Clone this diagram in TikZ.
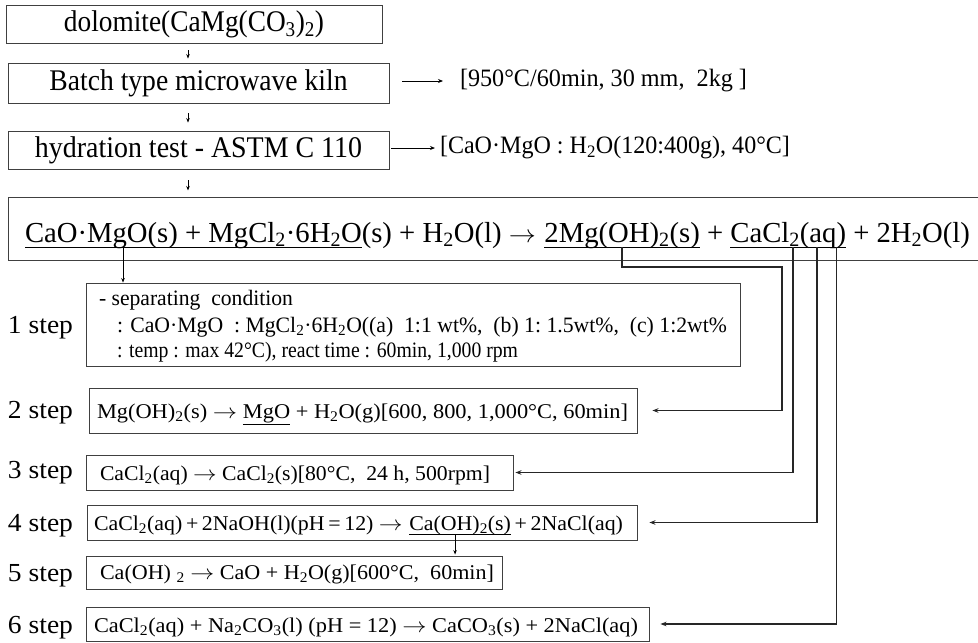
\documentclass[tikz,border=0pt]{standalone}
\usepackage{fontspec}
\setmainfont{Liberation Serif}
\usepackage{graphicx}
\usetikzlibrary{arrows.meta,calc}
\newcommand\fw[3]{\resizebox{#1}{\height}{\fontsize{#2}{#2}\selectfont #3}}
\newcommand\sbs[1]{\textsubscript{#1}}
\newcommand\myarrow{\scalebox{1.1}[1]{$\rightarrow$}}
\newlength\mylenA
\newlength\mylenB
\newcommand\eqA{CaO·MgO(s) + MgCl\sbs{2}·6H\sbs{2}O}
\newcommand\eqB{(s) + H\sbs{2}O(l) \myarrow\hspace{0.3em}}
\newcommand\eqC{2Mg(OH)\sbs{2}(s)}
\newcommand\eqD{\hspace{0.25em}+\hspace{0.25em}}
\newcommand\eqE{CaCl\sbs{2}(aq)}
\newcommand\eqF{\hspace{0.25em}+ 2H\sbs{2}O(l)}
\newcommand\qA{CaCl\sbs{2}(aq)\,+\,2NaOH(l)(pH\,=\,12) \myarrow\hspace{0.3em}}
\newcommand\qB{Ca(OH)\sbs{2}(s)}
\newcommand\qC{\,+\,2NaCl(aq)}
\begin{document}
\settowidth\mylenA{\fontsize{29}{34}\selectfont\eqA\eqB\eqC\eqD\eqE\eqF}
\settowidth\mylenB{\fontsize{21}{25}\selectfont\qA\qB\qC}
\pgfmathsetmacro\eqs{945/\mylenA}
\pgfmathsetmacro\qs{529/\mylenB}
\begin{tikzpicture}[x=1pt,y=-1pt,
  box/.style={draw=black!75, line width=0.9pt, inner sep=0pt},
  txt/.style={inner sep=0pt, outer sep=0pt},
  eqn/.style={txt, anchor=base west, font=\fontsize{29}{34}\selectfont},
  qn/.style={txt, anchor=base west, font=\fontsize{21}{25}\selectfont},
  conn/.style={draw=black!85, line width=1.4pt},
  arr/.style={conn, -{Stealth[length=6pt,width=4.5pt]}},
  tiny/.style={draw=black, line width=0.9pt, -{Stealth[length=4.5pt,width=3.5pt]}},
  side/.style={draw=black, line width=0.9pt, -{Stealth[length=5pt,width=4pt]}},
  uline/.style={draw=black, line width=1pt},
]
\path[use as bounding box] (0,0) rectangle (978,643);
\fill[white] (0,0) rectangle (978,643);
\clip (0,0) rectangle (978,643);

% top boxes
\node[box, minimum width=376pt, minimum height=38pt] (b1) at (194,24) {\fw{260pt}{30}{dolomite(CaMg(CO\sbs{3})\sbs{2})}};
\node[box, minimum width=381pt, minimum height=40pt] (b2) at (198.5,83) {\fw{298pt}{30}{Batch type microwave kiln}};
\node[box, minimum width=381pt, minimum height=38pt] (b3) at (198.5,150) {\fw{327pt}{30}{hydration test - ASTM C 110}};

% side notes
\node[txt, anchor=west] (t2) at (460,81) {\fw{287pt}{25}{[950°C/60min, 30 mm,\ \ 2kg ]}};
\node[txt, anchor=west] (t3) at (440,148) {\fw{350pt}{25}{[CaO·MgO : H\sbs{2}O(120:400g), 40°C]}};
\coordinate (k2) at (402,81);
\coordinate (k3) at (391,148);
\draw[side, shorten >=17pt] (k2) -- (t2.west);
\draw[side, shorten >=5pt] (k3) -- (t3.west);

% equation box
\node[box, minimum width=1000pt, minimum height=63pt, anchor=north west] (eqbox) at (7.5,196.5) {};

% small vertical arrows
\coordinate (ax) at (188,0);
\draw[tiny, shorten <=7pt, shorten >=4pt] (b1.south -| ax) -- (b2.north -| ax);
\draw[tiny, shorten <=10pt, shorten >=8pt] (b2.south -| ax) -- (b3.north -| ax);
\draw[tiny, shorten <=11pt, shorten >=6pt] (b3.south -| ax) -- (eqbox.north -| ax);

% equation
\node[eqn] (e1) at (25,242) {\scalebox{\eqs}[1]{\eqA}};
\node[eqn] (e2) at (e1.base east) {\scalebox{\eqs}[1]{\eqB}};
\node[eqn] (e3) at (e2.base east) {\scalebox{\eqs}[1]{\eqC}};
\node[eqn] (e4) at (e3.base east) {\scalebox{\eqs}[1]{\eqD}};
\node[eqn] (e5) at (e4.base east) {\scalebox{\eqs}[1]{\eqE}};
\node[eqn] (e6) at (e5.base east) {\scalebox{\eqs}[1]{\eqF}};
\coordinate (u1a) at ($(e1.base west)+(0,5)$);
\coordinate (u1b) at ($(e1.base east)+(0,5)$);
\coordinate (u3a) at ($(e3.base west)+(0,5)$);
\coordinate (u3b) at ($(e3.base east)+(0,5)$);
\coordinate (u5a) at ($(e5.base west)+(0,5)$);
\coordinate (u5b) at ($(e5.base east)+(0,5)$);
\draw[uline] (u1a) -- (u1b);
\draw[uline] (u3a) -- (u3b);
\draw[uline] (u5a) -- (u5b);

% step labels
\node[txt, anchor=base] (L1) at (40.5,333) {\fw{65pt}{26}{1 step}};
\node[txt, anchor=base] (L2) at (40.5,418) {\fw{65pt}{26}{2 step}};
\node[txt, anchor=base] (L3) at (40.5,478) {\fw{65pt}{26}{3 step}};
\node[txt, anchor=base] (L4) at (40.5,531) {\fw{65pt}{26}{4 step}};
\node[txt, anchor=base] (L5) at (40.5,581) {\fw{65pt}{26}{5 step}};
\node[txt, anchor=base] (L6) at (40.5,633) {\fw{65pt}{26}{6 step}};

% step boxes
\node[box, minimum width=654pt, minimum height=83pt] (s1) at (413,324.5) {};
\node[box, minimum width=548pt, minimum height=45pt] (s2) at (363,410.5) {};
\node[box, minimum width=427pt, minimum height=35pt] (s3) at (299.5,472.5) {};
\node[box, minimum width=550pt, minimum height=35pt] (s4) at (362,522.5) {};
\node[box, minimum width=416pt, minimum height=33pt] (s5) at (294,572.5) {};
\node[box, minimum width=563pt, minimum height=34pt] (s6) at (367.5,624) {};

% step 1 text
\node[txt, anchor=base west] (l1) at (99,305) {\fw{194pt}{22}{- separating\ \ condition}};
\node[txt, anchor=base west] (l2) at (117,332) {\fw{610pt}{22}{: CaO·MgO\ \ : MgCl\sbs{2}·6H\sbs{2}O((a)\ \ 1:1 wt\%,\ \ (b) 1:\ 1.5wt\%,\ \ (c) 1:2wt\%}};
\node[txt, anchor=base west] (l3) at (117,357) {\fw{401pt}{22}{: temp : max 42°C), react time : 60min, 1,000 rpm}};

% step texts
\node[txt, anchor=base west] (T2) at (97,418) {\fw{531pt}{21}{Mg(OH)\sbs{2}(s) \myarrow{} \underline{MgO} + H\sbs{2}O(g)[600, 800, 1,000°C, 60min]}};
\node[txt, anchor=base west] (T3) at (100,480) {\fw{390pt}{21}{CaCl\sbs{2}(aq) \myarrow{} CaCl\sbs{2}(s)[80°C,\ \ 24 h, 500rpm]}};
\node[qn] (p4a) at (94,530) {\scalebox{\qs}[1]{\qA}};
\node[qn] (p4b) at (p4a.base east) {\scalebox{\qs}[1]{\qB}};
\node[qn] (p4c) at (p4b.base east) {\scalebox{\qs}[1]{\qC}};
\coordinate (u4a) at ($(p4b.base west)+(0,4)$);
\coordinate (u4b) at ($(p4b.base east)+(0,4)$);
\draw[black, line width=0.8pt] (u4a) -- (u4b);
\node[txt, anchor=base west] (T5) at (100,579) {\fw{394pt}{21}{Ca(OH) \sbs{2} \myarrow{} CaO + H\sbs{2}O(g)[600°C,\ \ 60min]}};
\node[txt, anchor=base west] (T6) at (94,632) {\fw{544pt}{21}{CaCl\sbs{2}(aq) + Na\sbs{2}CO\sbs{3}(l) (pH = 12) \myarrow{} CaCO\sbs{3}(s) + 2NaCl(aq)}};

% connectors
\coordinate (d1) at ($(u1a)!0.291!(u1b)$);
\draw[tiny] (d1) -- (d1 |- s1.north);
\coordinate (d4) at ($(u4a)!0.45!(u4b)$);
\draw[tiny, shorten >=1pt] (d4) -- (d4 |- s5.north);

\coordinate (m3) at ($(u3a)!0.5!(u3b)$);
\coordinate (r2) at (782,267);
\draw[arr, shorten >=15pt] (m3) |- (r2) |- (s2.east);
\coordinate (c3) at ($(u5a)!0.542!(u5b)$);
\coordinate (c4) at ($(u5a)!0.748!(u5b)$);
\coordinate (c6) at ($(u5a)!0.916!(u5b)$);
\draw[arr, shorten >=2pt] (c3) |- (s3.east);
\draw[arr, shorten >=12pt] (c4) |- (s4.east);
\draw[arr, shorten >=11pt] (c6) |- (s6.east);
\end{tikzpicture}
\end{document}
